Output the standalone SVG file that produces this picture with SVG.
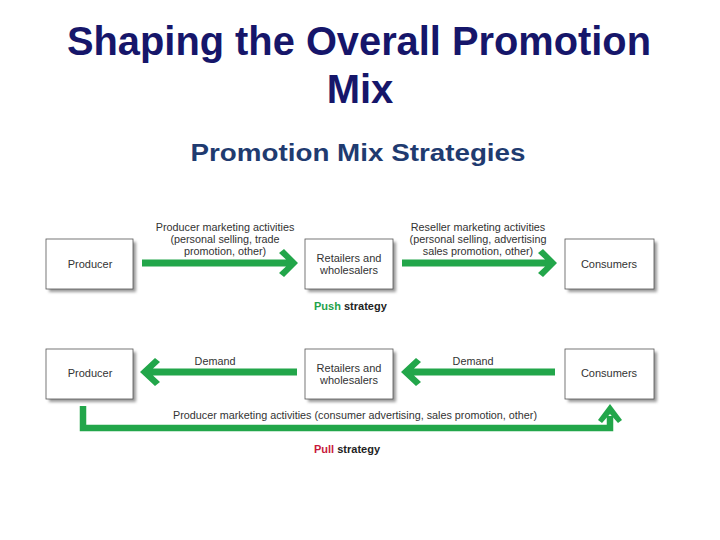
<svg xmlns="http://www.w3.org/2000/svg" width="720" height="540" viewBox="0 0 720 540">
<style>
.title{font-family:"Liberation Sans",Arial,sans-serif;font-weight:bold;fill:#16166a;font-size:40px;text-anchor:middle}
.sub{font-family:"Liberation Sans",Arial,sans-serif;font-weight:bold;fill:#1f3b70;font-size:24px;text-anchor:middle}
.box{fill:#fff;stroke:#555;stroke-width:0.8}
.shadow{fill:#9a9a9a;filter:url(#blur)}
.bt{font-family:"Liberation Sans",Arial,sans-serif;font-size:11px;fill:#333;text-anchor:middle}
.lab{font-family:"Liberation Sans",Arial,sans-serif;font-size:10.8px;fill:#333;text-anchor:middle}
.strat{font-family:"Liberation Sans",Arial,sans-serif;font-size:11px;font-weight:bold;fill:#222}
.arr{fill:#22a64a}
.line{fill:none;stroke:#22a64a;stroke-width:6.5}
</style>
<defs>
<filter id="blur" x="-10%" y="-10%" width="130%" height="140%"><feGaussianBlur stdDeviation="1.5"/></filter>
</defs>
<rect width="720" height="540" fill="#fff"/>
<text class="title" x="359" y="55" textLength="584" lengthAdjust="spacingAndGlyphs">Shaping the Overall Promotion</text>
<text class="title" x="360" y="103">Mix</text>
<text class="sub" x="358" y="161" textLength="335" lengthAdjust="spacingAndGlyphs">Promotion Mix Strategies</text>

<g id="producer1"><rect class="shadow" x="49" y="242" width="87" height="50"/><rect class="box" x="46" y="239" width="87" height="50"/><text class="bt" x="90" y="268">Producer</text></g>
<g id="retailers1"><rect class="shadow" x="308" y="242" width="88" height="50"/><rect class="box" x="305" y="239" width="88" height="50"/><text class="bt" x="349" y="262">Retailers and</text><text class="bt" x="349" y="274">wholesalers</text></g>
<g id="consumers1"><rect class="shadow" x="568" y="242" width="89" height="50"/><rect class="box" x="565" y="239" width="89" height="50"/><text class="bt" x="609" y="268">Consumers</text></g>

<g id="producer2"><rect class="shadow" x="49" y="352" width="87" height="50"/><rect class="box" x="46" y="349" width="87" height="50"/><text class="bt" x="90" y="377">Producer</text></g>
<g id="retailers2"><rect class="shadow" x="308" y="352" width="88" height="50"/><rect class="box" x="305" y="349" width="88" height="50"/><text class="bt" x="349" y="372">Retailers and</text><text class="bt" x="349" y="384">wholesalers</text></g>
<g id="consumers2"><rect class="shadow" x="568" y="352" width="89" height="50"/><rect class="box" x="565" y="349" width="89" height="50"/><text class="bt" x="609" y="377">Consumers</text></g>

<g id="connectors">
<path class="arr" d="M142,259.5 H286 L279,253 L284,249 L298,263 L284,277 L279,273 L286,266.5 H142 Z"/>
<path class="arr" d="M402,259.5 H545 L538,253 L543,249 L557,263 L543,277 L538,273 L545,266.5 H402 Z"/>
<path class="arr" d="M297,368.5 H153 L160,362 L155,358 L140,372 L155,386 L160,382 L153,375.5 H297 Z"/>
<path class="arr" d="M555,368.5 H414 L421,362 L416,358 L401,372 L416,386 L421,382 L414,375.5 H555 Z"/>
<polyline class="line" points="83,406 83,428 610,428 610,416"/>
<path class="arr" d="M598,420 L610,404 L622,420 L618,423 L610,414 L602,423 Z"/>
</g>

<g id="labels">
<text class="lab" x="225" y="231">Producer marketing activities</text>
<text class="lab" x="225" y="243">(personal selling, trade</text>
<text class="lab" x="225" y="255">promotion, other)</text>
<text class="lab" x="478" y="231">Reseller marketing activities</text>
<text class="lab" x="478" y="243">(personal selling, advertising</text>
<text class="lab" x="478" y="255">sales promotion, other)</text>
<text class="lab" x="215" y="365">Demand</text>
<text class="lab" x="473" y="365">Demand</text>
<text class="lab" x="355" y="419" textLength="364" lengthAdjust="spacingAndGlyphs">Producer marketing activities (consumer advertising, sales promotion, other)</text>
<text class="strat" x="314" y="310"><tspan fill="#1fa24a">Push</tspan> strategy</text>
<text class="strat" x="314" y="453"><tspan fill="#c8193c">Pull</tspan> strategy</text>
</g>
</svg>
